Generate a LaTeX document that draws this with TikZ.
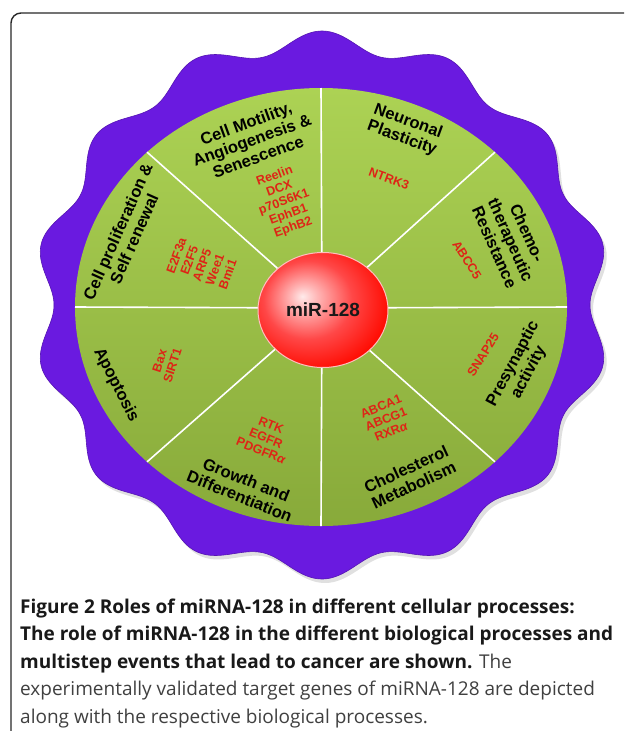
\documentclass[tikz,border=0pt]{standalone}
\usepackage{fontspec}
\setmainfont{Liberation Sans}
\newfontfamily\capfont{Open Sans}
\usetikzlibrary{shapes.geometric}
\definecolor{purpleC}{RGB}{106,26,224}
\definecolor{greenTop}{RGB}{172,210,84}
\definecolor{greenBot}{RGB}{136,170,58}
\definecolor{geneRed}{RGB}{222,36,22}
\definecolor{frameC}{RGB}{40,40,40}
\definecolor{capGray}{RGB}{64,64,64}
\pgfdeclareradialshading{mirball}{\pgfpoint{-8bp}{6bp}}{color(0bp)=(white!92!red); color(5bp)=(white!72!red); color(17bp)=(red!72!white); color(30bp)=(red!92!orange); color(44bp)=(red!88!black); color(62bp)=(red!70!black)}
\tikzset{
  ttl/.style={font=\bfseries\fontsize{16.5}{17.8}\selectfont, align=center, text=black, inner sep=0pt},
  gene/.style={font=\bfseries\fontsize{12.5}{13.6}\selectfont, align=center, text=geneRed, inner sep=0pt},
  secline/.style={draw=white, line width=1.6pt},
  capb/.style={font=\capfont\bfseries\fontsize{19}{22}\selectfont, text=black!90, anchor=base west, inner sep=0pt},
  capr/.style={font=\capfont\fontsize{19}{22}\selectfont, text=capGray, anchor=base west, inner sep=0pt},
}
\begin{document}
\begin{tikzpicture}[x=1pt,y=-1pt]
\useasboundingbox[fill=white] (0,0) rectangle (624,731);
% frame
\draw[frameC, line width=1.4pt, rounded corners=10pt] (11,731) -- (11,13) -- (624,13);
% purple wavy shape: shadow and body
\fill[black, opacity=0.12] plot[domain=0:360, samples=720, variable=\t]
  ({325+(278+10*cos(14*(\t-90)))*cos(\t)}, {309-(264+10*cos(14*(\t-90)))*sin(\t)}) -- cycle;
\fill[purpleC, draw=purpleC!80!black, line width=0.6pt] plot[domain=0:360, samples=720, variable=\t]
  ({322+(278+10*cos(14*(\t-90)))*cos(\t)}, {305-(264+10*cos(14*(\t-90)))*sin(\t)}) -- cycle;
% green disk
\shade[top color=greenTop, bottom color=greenBot] (321,307) ellipse [x radius=246, y radius=219];
% sector lines
\coordinate (c) at (322,308);
\foreach \a [count=\i] in {0,45,...,315}
  \coordinate (e\i) at ({321+246*cos(\a)}, {307-219*sin(\a)});
\foreach \i in {1,...,8}
  \draw[secline] (c) -- (e\i);
% ball
\node (ball) [ellipse, minimum width=130pt, minimum height=115pt, shading=mirball,
  draw=white!75!red, line width=1pt, inner sep=0pt,
  font=\bfseries\fontsize{19}{20}\selectfont, text=black!90] at (323,310) {miR-128};
% titles
\node (t1) [ttl, rotate=20]  at (252,140) {Cell Motility,\\Angiogenesis \&\\Senescence};
\node (t2) [ttl, rotate=-20] at (405,130) {Neuronal\\Plasticity};
\node (t3) [ttl, rotate=-66] at (511,240) {Chemo-\\therapeutic\\Resistance};
\node (t4) [ttl, rotate=62]  at (521,368) {Presynaptic\\activity};
\node (t5) [ttl, rotate=25]  at (410,477) {Cholesterol\\Metabolism};
\node (t6) [ttl, rotate=-22] at (243,488) {Growth and\\Differentiation};
\node (t7) [ttl, rotate=-63] at (116,385) {Apoptosis};
\node (t8) [ttl, rotate=66]  at (126,235) {Cell proliferation \&\\Self renewal};
% genes
\node (g1) [gene, rotate=20]  at (284,202) {Reelin\\DCX\\p70S6K1\\EphB1\\EphB2};
\node (g2) [gene, rotate=-20] at (389,179) {NTRK3};
\node (g3) [gene, rotate=-58] at (467,260) {ABCC5};
\node (g4) [gene, rotate=58]  at (483,355) {SNAP25};
\node (g5) [gene, rotate=22]  at (386,419) {ABCA1\\ABCG1\\RXR{\itshape α}};
\node (g6) [gene, rotate=-22] at (266,438) {RTK\\EGFR\\PDGFR{\itshape α}};
\node (g7) [gene, rotate=72]  at (166,363) {Bax\\SIRT1};
\node (g8) [gene, rotate=70]  at (202,265) {E2F3a\\E2F5\\ARP5\\Wee1\\Bmi1};
% caption
\node (cap1) [capb] at (20,613) {Figure 2 Roles of miRNA-128 in different cellular processes:};
\node (cap2) [capb] at (20,640.5) {The role of miRNA-128 in the different biological processes and};
\node (cap3) [capb] at (20,668) {multistep events that lead to cancer are shown. {\mdseries\color{capGray}The}};
\node (cap4) [capr] at (20,695.5) {experimentally validated target genes of miRNA-128 are depicted};
\node (cap5) [capr] at (20,723) {along with the respective biological processes.};
\end{tikzpicture}
\end{document}
